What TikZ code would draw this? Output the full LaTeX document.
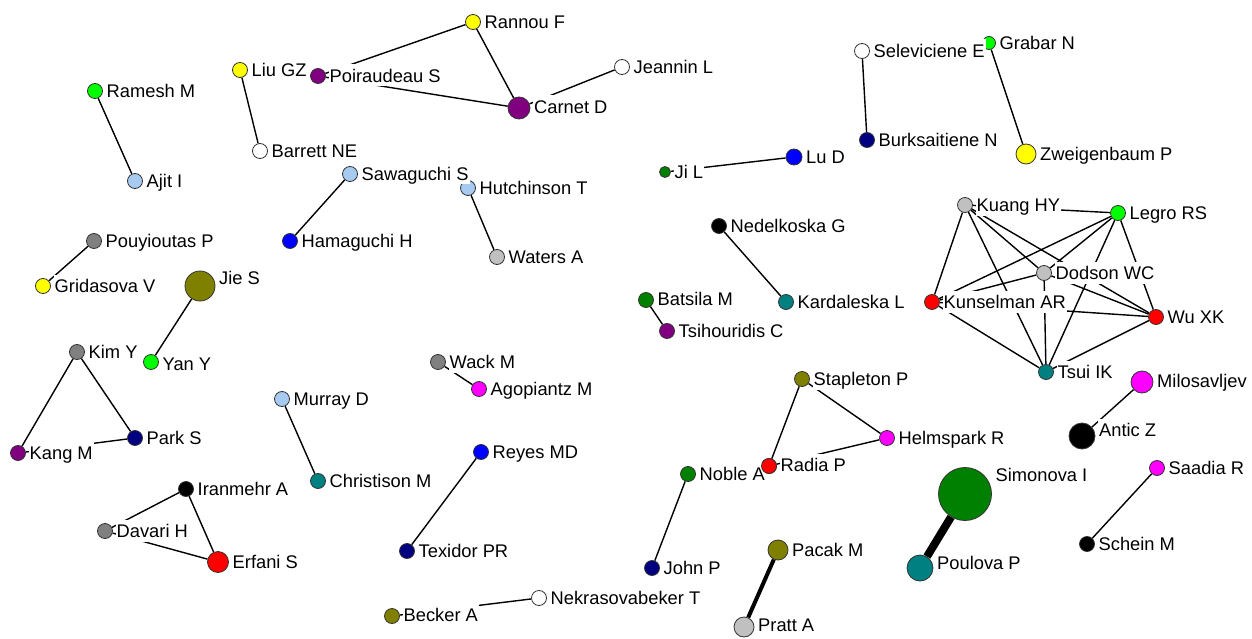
\documentclass[tikz,border=0pt]{standalone}
\usepackage{fontspec}
\setmainfont{Liberation Sans}
\pgfdeclarelayer{bg}
\pgfdeclarelayer{fg}
\pgfsetlayers{bg,main,fg}
\definecolor{cgreen}{RGB}{0,255,0}
\definecolor{clblue}{RGB}{166,202,240}
\definecolor{cyellow}{RGB}{255,255,0}
\definecolor{cpurple}{RGB}{128,0,128}
\definecolor{cnavy}{RGB}{0,0,128}
\definecolor{cblue}{RGB}{0,0,255}
\definecolor{cgray}{RGB}{128,128,128}
\definecolor{clgray}{RGB}{192,192,192}
\definecolor{cdgreen}{RGB}{0,128,0}
\definecolor{cteal}{RGB}{0,128,128}
\definecolor{colive}{RGB}{128,128,0}
\definecolor{cmag}{RGB}{255,0,255}
\definecolor{cred}{RGB}{255,0,0}
\tikzset{
  dot/.style={circle,draw=black!80,line width=0.8pt,inner sep=0pt},
  lab/.style={anchor=base west,fill=white,inner xsep=1pt,inner ysep=0pt,
     text height=18pt,text depth=4pt,font=\fontsize{18.3}{20}\selectfont},
  tie/.style={line width=1.4pt,black},
  tie4/.style={line width=4pt,black},
  tie8/.style={line width=8pt,black}
}
% \au{id}{x}{y}{diameter}{colour}{label}{dx}{dy}
\newcommand\au[8]{%
  \node[dot,minimum size=#4pt,fill=#5] (#1) at (#2,#3) {};
  \begin{pgfonlayer}{fg}
  \node[lab] (#1l) at ([shift={({#4/2+3+#7},{6.5+#8})}]#1.center) {#6};
  \end{pgfonlayer}}
\newcommand\ed[3][tie]{\begin{pgfonlayer}{bg}\draw[#1] (#2) -- (#3);\end{pgfonlayer}}
\begin{document}
\begin{tikzpicture}[x=1pt,y=-1pt]
\begin{pgfonlayer}{bg}
\fill[white] (0,0) rectangle (1252,639);
\end{pgfonlayer}
\useasboundingbox (0,0) rectangle (1252,639);
% nodes
\au{ramesh}{95}{91}{15}{cgreen}{Ramesh M}{0}{0}
\au{ajit}{135}{181}{15}{clblue}{Ajit I}{0}{0}
\au{liu}{240}{70}{15}{cyellow}{Liu GZ}{0}{0}
\au{barrett}{260}{151}{15}{white}{Barrett NE}{0}{0}
\au{poir}{318}{76}{15}{cpurple}{Poiraudeau S}{0}{0}
\au{rannou}{473}{22}{15}{cyellow}{Rannou F}{0}{0}
\au{carnet}{519}{108}{22}{cpurple}{Carnet D}{0}{-1}
\au{jeannin}{622}{67}{15}{white}{Jeannin L}{0}{0}
\au{selev}{862}{51}{15}{white}{Seleviciene E}{0}{0}
\au{grabar}{989}{43}{13}{cgreen}{Grabar N}{0}{0}
\au{burk}{867}{140}{15}{cnavy}{Burksaitiene N}{0}{0}
\au{zweig}{1026}{154}{20}{cyellow}{Zweigenbaum P}{0}{0}
\au{sawa}{350}{174}{15}{clblue}{Sawaguchi S}{0}{0}
\au{hama}{290}{241}{15}{cblue}{Hamaguchi H}{0}{0}
\au{hutch}{468}{188}{15}{clblue}{Hutchinson T}{0}{0}
\au{waters}{497}{257}{15}{clgray}{Waters A}{0}{0}
\au{jil}{665}{172}{11}{cdgreen}{Ji L}{0}{0}
\au{lud}{794}{157}{16}{cblue}{Lu D}{0}{0}
\au{nedel}{719}{226}{15}{black}{Nedelkoska G}{0}{0}
\au{karda}{786}{302}{15}{cteal}{Kardaleska L}{0}{0}
\au{batsila}{646}{300}{15}{cdgreen}{Batsila M}{0}{-1}
\au{tsihou}{667}{331}{15}{cpurple}{Tsihouridis C}{0}{0}
\au{pouy}{94}{241}{15}{cgray}{Pouyioutas P}{0}{0}
\au{grid}{43}{286}{15}{cyellow}{Gridasova V}{0}{0}
\au{jie}{200}{286}{30}{colive}{Jie S}{0}{-8}
\au{yan}{151}{362}{15}{cgreen}{Yan Y}{0}{2}
\au{kim}{77}{352}{15}{cgray}{Kim Y}{0}{0}
\au{park}{135}{438}{15}{cnavy}{Park S}{0}{0}
\au{kang}{18}{453}{15}{cpurple}{Kang M}{0}{0}
\au{murray}{282}{399}{15}{clblue}{Murray D}{0}{0}
\au{christ}{318}{481}{15}{cteal}{Christison M}{0}{0}
\au{wack}{438}{362}{15}{cgray}{Wack M}{0}{0}
\au{agop}{479}{389}{15}{cmag}{Agopiantz M}{0}{0}
\au{iran}{186}{489}{15}{black}{Iranmehr A}{0}{0}
\au{davari}{105}{531}{15}{cgray}{Davari H}{0}{0}
\au{erfani}{218}{562}{21}{cred}{Erfani S}{0}{0}
\au{reyes}{481}{452}{15}{cblue}{Reyes MD}{0}{0}
\au{texidor}{407}{551}{15}{cnavy}{Texidor PR}{0}{0}
\au{becker}{392}{616}{15}{colive}{Becker A}{0}{-1}
\au{nekra}{539}{598}{15}{white}{Nekrasovabeker T}{0}{0}
\au{noble}{688}{474}{15}{cdgreen}{Noble A}{0}{0}
\au{john}{652}{568}{15}{cnavy}{John P}{0}{0}
\au{staple}{802}{379}{15}{colive}{Stapleton P}{0}{0}
\au{radia}{769}{466}{15}{cred}{Radia P}{0}{-1}
\au{helms}{887}{438}{15}{cmag}{Helmspark R}{0}{0}
\au{pacak}{778}{550}{20}{colive}{Pacak M}{0}{0}
\au{pratt}{744}{627}{20}{clgray}{Pratt A}{0}{-2}
\au{simon}{965}{494}{53}{cdgreen}{Simonova I}{0}{-19}
\au{poulova}{920}{568}{26}{cteal}{Poulova P}{0}{-5}
\au{kuang}{965}{205}{15}{clgray}{Kuang HY}{0}{0}
\au{legro}{1118}{213}{15}{cgreen}{Legro RS}{0}{0}
\au{dodson}{1044}{273}{15}{clgray}{Dodson WC}{0}{0}
\au{kunsel}{932}{302}{15}{cred}{Kunselman AR}{0}{0}
\au{wu}{1156}{317}{15}{cred}{Wu XK}{0}{0}
\au{tsui}{1046}{372}{15}{cteal}{Tsui IK}{0}{0}
\au{milos}{1142}{382}{22}{cmag}{Milosavljev}{0}{-1}
\au{antic}{1082}{436}{26}{black}{Antic Z}{0}{-6}
\au{saadia}{1157}{468}{15}{cmag}{Saadia R}{0}{0}
\au{schein}{1087}{544}{15}{black}{Schein M}{0}{0}
% edges
\ed{ramesh}{ajit}
\ed{liu}{barrett}
\ed{poir}{rannou}
\ed{poir}{carnet}
\ed{rannou}{carnet}
\ed{carnet}{jeannin}
\ed{selev}{burk}
\ed{grabar}{zweig}
\ed{sawa}{hama}
\ed{hutch}{waters}
\ed{jil}{lud}
\ed{nedel}{karda}
\ed{batsila}{tsihou}
\ed{pouy}{grid}
\ed{jie}{yan}
\ed{kim}{park}
\ed{kim}{kang}
\ed{kang}{park}
\ed{murray}{christ}
\ed{wack}{agop}
\ed{iran}{davari}
\ed{iran}{erfani}
\ed{davari}{erfani}
\ed{reyes}{texidor}
\ed{becker}{nekra}
\ed{noble}{john}
\ed{staple}{radia}
\ed{staple}{helms}
\ed{radia}{helms}
\ed[tie4]{pacak}{pratt}
\ed[tie8]{simon}{poulova}
\ed{milos}{antic}
\ed{saadia}{schein}
\foreach \a/\b in {kuang/legro,kuang/kunsel,kuang/tsui,kuang/dodson,kuang/wu,
  legro/kunsel,legro/dodson,legro/tsui,legro/wu,dodson/kunsel,dodson/tsui,
  dodson/wu,kunsel/wu,kunsel/tsui,wu/tsui}{\ed{\a}{\b}}
% node drawn over the neighbouring label, as in the reference
\begin{pgfonlayer}{fg}
\node[dot,minimum size=15pt,fill=cred] (radiatop) at (radia) {};
\end{pgfonlayer}
\end{tikzpicture}
\end{document}
